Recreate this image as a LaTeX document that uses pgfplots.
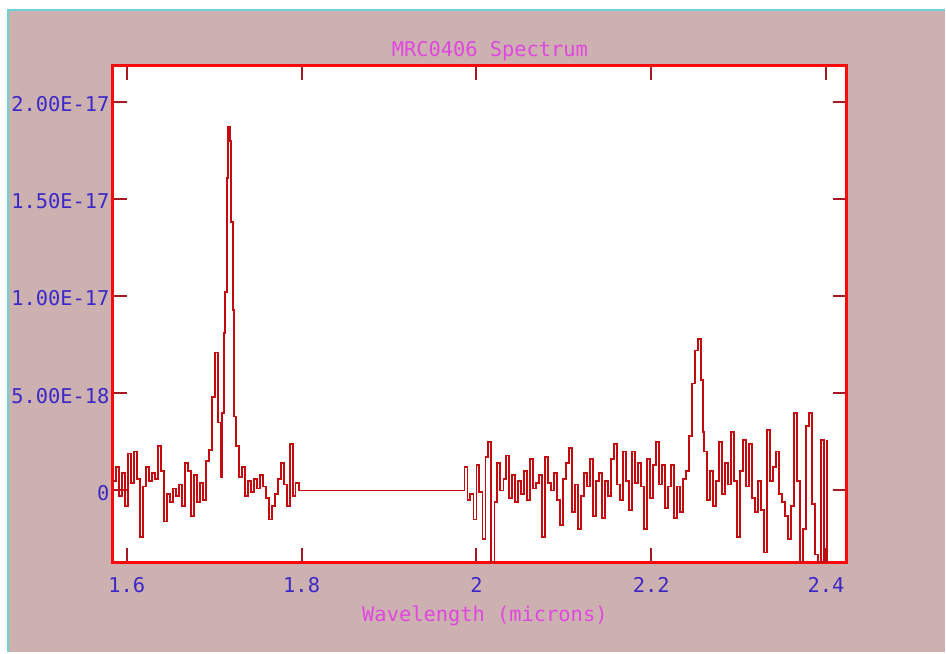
\documentclass[border=0pt]{standalone}
\usepackage{pgfplots}
\pgfplotsset{compat=1.18}
\usepackage{pgfplotstable}
\usepackage{fontspec}
\newfontfamily\mono{DejaVu Sans Mono}
\definecolor{bgmauve}{RGB}{205,176,176}
\definecolor{bordercyan}{RGB}{110,208,208}
\definecolor{framered}{RGB}{250,10,10}
\definecolor{tickred}{RGB}{165,25,35}
\definecolor{lblblue}{RGB}{60,40,200}
\definecolor{ttlmag}{RGB}{225,70,225}
\definecolor{specred}{RGB}{195,10,15}

% wavelength (microns)  flux (units of 1e-18)
\pgfplotstableread{
x y
1.5840 0.5
1.5874 1.2
1.5909 -0.3
1.5943 0.9
1.5977 -0.8
1.6011 1.9
1.6046 0.4
1.6080 2.0
1.6114 0.6
1.6149 -2.4
1.6183 0.2
1.6217 1.2
1.6251 0.5
1.6286 0.9
1.6320 0.6
1.6354 2.3
1.6389 1.0
1.6423 -1.6
1.6457 -0.2
1.6491 -0.6
1.6526 0.1
1.6560 -0.3
1.6594 0.3
1.6629 -0.8
1.6663 1.4
1.6697 1.0
1.6731 -1.3
1.6766 0.8
1.6800 -0.6
1.6834 0.4
1.6869 -0.5
1.6903 1.5
1.6937 2.1
1.6971 4.8
1.7006 7.1
1.7040 3.5
1.7074 0.7
1.7091 4.0
1.7109 8.1
1.7126 10.2
1.7143 16.1
1.7160 18.7
1.7177 18.0
1.7194 13.8
1.7211 9.3
1.7229 3.8
1.7246 2.3
1.7280 0.7
1.7314 1.2
1.7349 -0.3
1.7383 0.5
1.7417 -0.1
1.7451 0.6
1.7486 0.1
1.7520 0.8
1.7554 0.2
1.7589 -0.4
1.7623 -1.5
1.7657 -0.8
1.7691 -0.2
1.7726 0.6
1.7760 1.4
1.7794 0.3
1.7829 -0.8
1.7863 2.4
1.7897 -0.3
1.7931 0.4
1.7966 0.0
1.9863 1.2
1.9897 -0.5
1.9931 -0.2
1.9966 -1.5
2.0000 1.3
2.0034 -0.1
2.0069 -2.5
2.0103 1.7
2.0137 2.5
2.0171 -4.5
2.0206 -0.6
2.0240 1.4
2.0274 0.0
2.0309 0.6
2.0343 1.8
2.0377 -0.4
2.0411 0.8
2.0446 -0.6
2.0480 0.5
2.0514 -0.2
2.0549 1.0
2.0583 -0.5
2.0617 1.6
2.0651 0.1
2.0686 0.4
2.0720 0.8
2.0754 -2.4
2.0789 1.7
2.0823 0.4
2.0857 0.0
2.0891 0.9
2.0926 -0.5
2.0960 -1.8
2.0994 0.6
2.1029 1.4
2.1063 2.2
2.1097 -1.1
2.1131 0.3
2.1166 -2.0
2.1200 -0.3
2.1234 0.9
2.1269 0.2
2.1303 1.6
2.1337 -1.3
2.1371 0.5
2.1406 0.9
2.1440 -1.4
2.1474 0.5
2.1509 -0.3
2.1543 1.6
2.1577 2.4
2.1611 0.3
2.1646 -0.5
2.1680 2.0
2.1714 0.5
2.1749 -1.0
2.1783 2.0
2.1817 0.4
2.1851 1.4
2.1886 0.2
2.1920 -2.0
2.1954 1.6
2.1989 -0.4
2.2023 1.3
2.2057 2.5
2.2091 0.3
2.2126 1.3
2.2160 -0.9
2.2194 0.2
2.2229 1.3
2.2263 -1.4
2.2297 0.2
2.2331 -1.1
2.2366 0.6
2.2400 1.0
2.2434 2.8
2.2469 5.5
2.2503 7.2
2.2537 7.8
2.2571 5.7
2.2589 3.0
2.2606 2.0
2.2640 -0.5
2.2674 1.0
2.2709 -0.8
2.2743 0.5
2.2777 2.5
2.2811 -0.2
2.2846 1.4
2.2880 0.3
2.2914 3.0
2.2949 0.5
2.2983 -2.4
2.3017 1.0
2.3051 2.6
2.3086 0.2
2.3120 2.4
2.3154 -0.4
2.3189 -1.1
2.3223 0.5
2.3257 -1.0
2.3291 -3.2
2.3326 3.1
2.3360 0.5
2.3394 1.2
2.3429 2.0
2.3463 -0.2
2.3497 -0.6
2.3531 -1.3
2.3566 -2.5
2.3600 -0.8
2.3634 4.0
2.3669 0.5
2.3703 -5.0
2.3737 -2.0
2.3771 3.3
2.3806 4.0
2.3840 -0.7
2.3874 -3.3
2.3909 -5.0
2.3943 2.6
2.3977 -4.0
2.4011 2.6
}\spectrum

\begin{document}
\begin{tikzpicture}
% page background: white margin, cyan border lines, mauve panel
\fill[white] (0pt,0pt) rectangle (473pt,326.5pt);
\fill[bgmauve] (4pt,0pt) rectangle (473pt,321.5pt);
\draw[bordercyan, line width=1.2pt] (4pt,0pt) -- (4pt,321.5pt) -- (473pt,321.5pt);
\begin{axis}[
  at={(56.5pt,45pt)}, anchor=south west,
  scale only axis, width=367.5pt, height=248.5pt,
  xmin=1.584, xmax=2.424,
  ymin=-3.7, ymax=21.85,
  axis background/.style={fill=white},
  axis line style={framered, line width=1.5pt},
  xtick={1.6,1.8,2.0,2.2,2.4},
  xticklabels={1.6,1.8,2,2.2,2.4},
  ytick={0,5,10,15,20},
  yticklabels={0,5.00E-18,1.00E-17,1.50E-17,2.00E-17},
  tick align=inside,
  major tick length=7pt,
  every tick/.style={tickred, line width=1pt},
  xticklabel style={font=\mono\fontsize{10.2}{12}\selectfont, text=lblblue, anchor=base, inner sep=0pt, yshift=-15pt},
  yticklabel style={font=\mono\fontsize{10.2}{12}\selectfont, text=lblblue, anchor=east, inner sep=0pt, xshift=-1.5pt, yshift=-1.2pt},
  every axis title/.style={at={(0.5,1)}, anchor=base, inner sep=0pt, yshift=4.5pt, xshift=5pt, font=\mono\fontsize{10.2}{12}\selectfont, text=ttlmag},
  every axis x label/.style={at={(0.5,0)}, anchor=base, inner sep=0pt, yshift=-29.5pt, xshift=2.5pt, font=\mono\fontsize{10.2}{12}\selectfont, text=ttlmag},
  title={MRC0406 Spectrum},
  xlabel={Wavelength (microns)},
  clip=true,
]
\addplot[const plot, specred, line width=0.9pt] table[x=x, y=y] {\spectrum};
\end{axis}
\end{tikzpicture}
\end{document}
